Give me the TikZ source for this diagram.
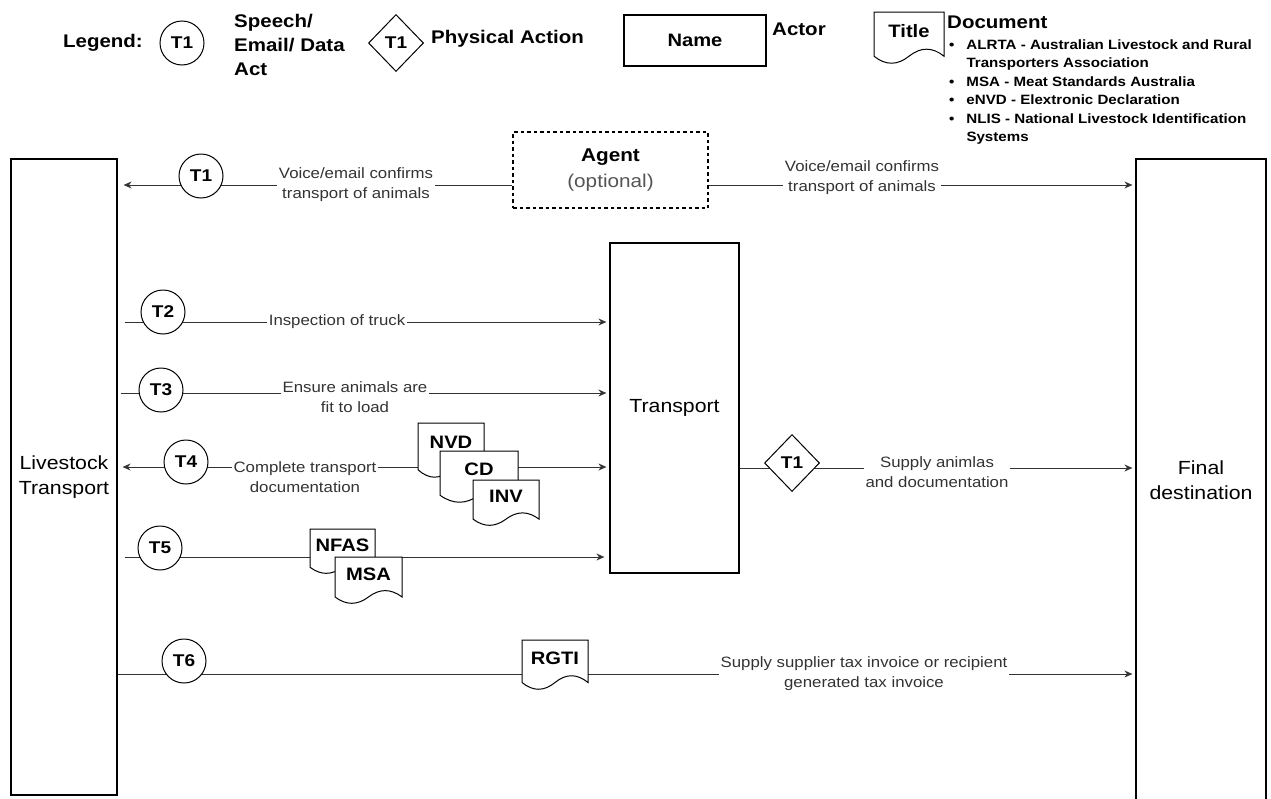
\documentclass[tikz,border=0pt]{standalone}
\usepackage{fontspec}
\setmainfont{Liberation Sans}[FakeStretch=1.12]
\usetikzlibrary{arrows.meta,calc,positioning,shapes.geometric}
\definecolor{lineg}{RGB}{51,51,51}
\definecolor{optg}{RGB}{85,85,85}
\newcommand{\docshape}[6]{%
  \filldraw[docline] (#2,#3) -- ({#2+#4},#3) -- ({#2+#4},{#3+0.85*#5})
    .. controls ({#2+0.833*#4},{#3+0.67*#5}) and ({#2+0.667*#4},{#3+0.67*#5}) .. ({#2+0.5*#4},{#3+0.85*#5})
    .. controls ({#2+0.333*#4},{#3+1.03*#5}) and ({#2+0.167*#4},{#3+1.03*#5}) .. (#2,{#3+0.85*#5}) -- cycle;
  \node[doctext] (#1) at ({#2+0.5*#4},{#3+0.36*#5}) {#6};
}
\tikzset{
  >={Stealth[length=8pt,width=7pt]},
  actor/.style={draw=black,line width=1.2pt,fill=white,align=center,inner sep=0pt,
    font=\fontsize{19}{25}\selectfont},
  agentbox/.style={actor,line width=1.3pt,dash pattern=on 3.5pt off 3pt},
  speech/.style={circle,draw=black,line width=1pt,fill=white,minimum size=44pt,inner sep=0pt,
    font=\fontsize{17}{17}\selectfont\bfseries},
  phys/.style={diamond,draw=black,line width=1pt,fill=white,minimum width=55pt,minimum height=57pt,
    inner sep=0pt,font=\fontsize{17}{17}\selectfont\bfseries},
  flow/.style={draw=lineg,line width=0.9pt,shorten >=3pt},
  lbl/.style={fill=white,align=center,inner sep=2pt,text=lineg,font=\fontsize{15}{20}\selectfont},
  docline/.style={draw=black,line width=1pt,fill=white},
  doctext/.style={inner sep=0pt,font=\fontsize{18}{18}\selectfont\bfseries},
  legtext/.style={inner sep=0pt,align=left,font=\fontsize{18.3}{24}\selectfont\bfseries},
  abbr/.style={inner sep=0pt,font=\fontsize{13.5}{18.4}\selectfont\bfseries},
}
\begin{document}
\begin{tikzpicture}[x=1pt,y=-1pt]
  \useasboundingbox (0,0) rectangle (1271,798);
  % legend
  \node[legtext,anchor=east] (legend) at (143,43) {Legend:};
  \node[speech] (legc) at (182,43) {T1};
  \node[legtext,anchor=west] (legct) at (234,45) {Speech/\\Email/ Data\\Act};
  \node[phys] (legd) at (396,43) {T1};
  \node[legtext,anchor=west] (legdt) at (431,39) {Physical Action};
  \node[actor,minimum width=142pt,minimum height=51pt,font=\fontsize{18}{18}\selectfont\bfseries]
    (legn) at (695,40.5) {Name};
  \node[legtext,anchor=west] (legnt) at (772,29) {Actor};
  \docshape{legt}{874}{12}{70}{52}{Title}
  \node[legtext,anchor=west] (legtt) at (947,22) {Document};
  \node[abbr,anchor=base west] (abbr) at (949,49.5) {%
    \begin{tabular}[t]{@{}l@{\hspace{12pt}}l@{}}
      \textbullet & ALRTA - Australian Livestock and Rural\\
                  & Transporters Association\\
      \textbullet & MSA - Meat Standards Australia\\
      \textbullet & eNVD - Elextronic Declaration\\
      \textbullet & NLIS - National Livestock Identification\\
                  & Systems
    \end{tabular}};

  % actors
  \node[actor,minimum width=106pt,minimum height=636pt] (lt) at (64,477) {Livestock\\Transport};
  \node[actor,minimum width=129pt,minimum height=330pt] (tr) at (674.5,408) {Transport};
  \node[actor,minimum width=130pt,minimum height=642pt] (fd) at (1201,480) {Final\\destination};
  \node[agentbox,minimum width=195pt,minimum height=76pt,font=\fontsize{18.5}{26}\selectfont]
    (agent) at (610.5,170) {\textbf{Agent}\\\textcolor{optg}{(optional)}};

  \coordinate (r1) at (0,185);
  \coordinate (r2) at (0,322);
  \coordinate (r3) at (0,393);
  \coordinate (r4) at (0,467);
  \coordinate (r5) at (0,557);
  \coordinate (rd) at (0,468);
  \coordinate (r6) at (0,674);

  % connectors
  \draw[flow,->,shorten >=6pt] (agent.west |- r1) -- (lt.east |- r1);
  \draw[flow,->] (agent.east |- r1) -- (fd.west |- r1);
  \draw[flow,->,shorten <=7pt] (lt.east |- r2) -- (tr.west |- r2);
  \draw[flow,->,shorten <=3pt] (lt.east |- r3) -- (tr.west |- r3);
  \draw[flow,<->,shorten <=5pt] (lt.east |- r4) -- (tr.west |- r4);
  \draw[flow,->,shorten <=7pt,shorten >=5pt] (lt.east |- r5) -- (tr.west |- r5);
  \draw[flow,->] (tr.east |- rd) -- (fd.west |- rd);
  \draw[flow,->] (lt.east |- r6) -- (fd.west |- r6);

  \node[lbl] (l1a) at (356,185) {Voice/email confirms\\transport of animals};
  \node[lbl] (l1b) at (862,178) {Voice/email confirms\\transport of animals};
  \node[lbl] (l2) at (337,322) {Inspection of truck};
  \node[lbl] (l3) at (355,397) {Ensure animals are\\fit to load};
  \node[lbl] (l4) at (305,477) {Complete transport\\documentation};
  \node[lbl] (ld) at (937,472) {Supply animlas\\and documentation};
  \node[lbl] (l6) at (864,673.5) {Supply supplier tax invoice or recipient\\generated tax invoice};

  \node[speech] (t1) at (201,176) {T1};
  \node[speech] (t2) at (163,312) {T2};
  \node[speech] (t3) at (161,390) {T3};
  \node[speech] (t4) at (186,462) {T4};
  \node[speech] (t5) at (160,548) {T5};
  \node[speech] (t6) at (184,661) {T6};
  \node[phys] (d1) at (792,463) {T1};

  % documents
  \docshape{nvd}{418}{423}{66}{55}{NVD}
  \docshape{cd}{440}{451}{78}{52}{CD}
  \docshape{inv}{473}{480}{66}{46}{INV}
  \docshape{nfas}{310}{529}{65}{45}{NFAS}
  \docshape{msa}{335}{557}{67}{47}{MSA}
  \docshape{rgti}{522}{640}{66}{50}{RGTI}
\end{tikzpicture}
\end{document}
